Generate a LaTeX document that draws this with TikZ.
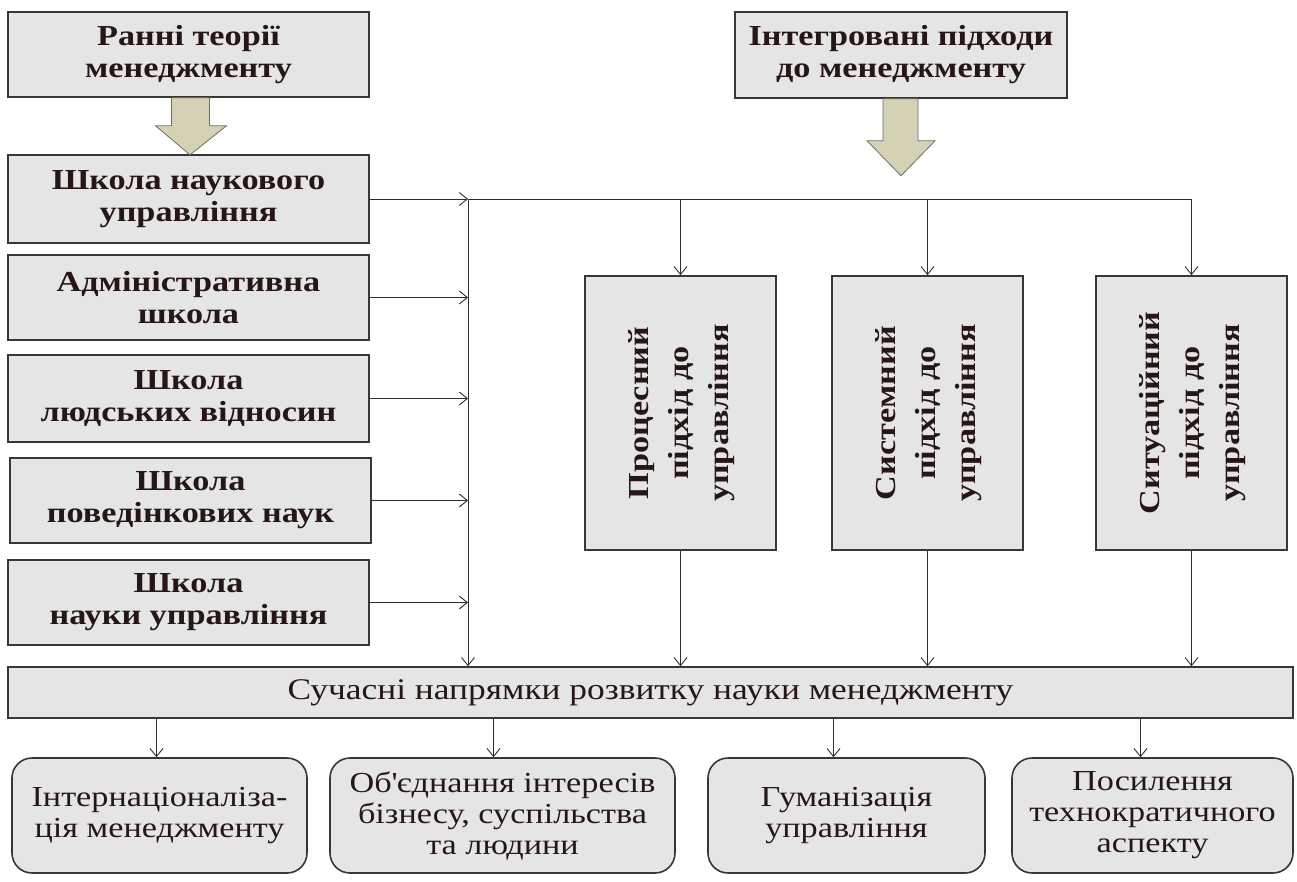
\documentclass[tikz,border=0pt]{standalone}
\usepackage{fontspec}
\setmainfont{Liberation Serif}[FakeStretch=1.18]
\usetikzlibrary{arrows.meta,calc}
\definecolor{boxfill}{RGB}{229,229,229}
\definecolor{boxline}{RGB}{55,55,55}
\definecolor{txt}{RGB}{38,22,22}
\definecolor{bigfill}{RGB}{212,209,181}
\definecolor{bigline}{RGB}{110,110,100}
\definecolor{conncol}{RGB}{45,45,45}
\begin{document}
\begin{tikzpicture}[x=1pt,y=-1pt,
  box/.style={draw=boxline, fill=boxfill, line width=1.6pt, inner sep=0pt, align=center, text=txt,
    font=\fontsize{29}{32}\selectfont\bfseries},
  rbox/.style={box, rounded corners=20pt, font=\fontsize{29}{31}\selectfont},
  barbox/.style={box, font=\fontsize{30}{30}\selectfont},
  conn/.style={draw=conncol, line width=0.9pt},
  arr/.style={conn, -{Straight Barb[length=8pt,width=13pt,line width=0.9pt]}},
  bigarrow/.style={draw=bigline, fill=bigfill, line width=0.8pt}
]
\useasboundingbox (0,0) rectangle (1297,881);
\fill[white] (0,0) rectangle (1297,881);

% left column
\node[box, minimum width=361pt, minimum height=85pt] (R) at (188.5,54.5) {Ранні теорії\\менеджменту};
\node[box, minimum width=361pt, minimum height=88pt] (S1) at (188.5,199) {Школа наукового\\управління};
\node[box, minimum width=361pt, minimum height=85pt] (S2) at (188.5,297.5) {Адміністративна\\школа};
\node[box, minimum width=361pt, minimum height=87pt] (S3) at (188.5,398.5) {Школа\\людських відносин};
\node[box, minimum width=361pt, minimum height=85pt] (S4) at (190.5,500.5) {Школа\\поведінкових наук};
\node[box, minimum width=361pt, minimum height=85pt] (S5) at (188.5,602.5) {Школа\\науки управління};

% top right
\node[box, minimum width=332pt, minimum height=86pt] (I) at (901,55) {Інтегровані підходи\\до менеджменту};

% vertical boxes
\def\vlines#1{\rotatebox{90}{\fontsize{29}{40}\selectfont\bfseries\begin{tabular}{@{}c@{}}#1\end{tabular}}}
\node[box, minimum width=191pt, minimum height=274pt] (P1) at (680.5,413) {\vlines{Процесний\\підхід до\\управління}};
\node[box, minimum width=191pt, minimum height=274pt] (P2) at (927.5,413) {\vlines{Системний\\підхід до\\управління}};
\node[box, minimum width=191pt, minimum height=274pt] (P3) at (1191.5,413) {\vlines{Ситуаційний\\підхід до\\управління}};

% bar
\node[barbox, minimum width=1285pt, minimum height=51pt] (bar) at (650.5,692.5) {Сучасні напрямки розвитку науки менеджменту};

% bottom boxes
\node[rbox, minimum width=295pt, minimum height=115pt] (B1) at (159.5,815.5) {Інтернаціоналіза-\\ція менеджменту};
\node[rbox, minimum width=345pt, minimum height=115pt] (B2) at (502.5,815.5) {Об\textquotesingle єднання інтересів\\бізнесу, суспільства\\та людини};
\node[rbox, minimum width=277pt, minimum height=115pt] (B3) at (846.5,815.5) {Гуманізація\\управління};
\node[rbox, minimum width=281pt, minimum height=115pt] (B4) at (1152.5,815.5) {Посилення\\технократичного\\аспекту};

% big arrows
\draw[bigarrow] ($(R.south)+(-17,0)$) -- ($(R.south)+(21,0)$) -- ($(R.south)+(21,28)$) -- ($(R.south)+(38,28)$)
  -- ($(R.south)+(1.5,57)$) -- ($(R.south)+(-33,28)$) -- ($(R.south)+(-17,28)$) -- cycle;
\draw[bigarrow] ($(I.south)+(-18,0)$) -- ($(I.south)+(17,0)$) -- ($(I.south)+(17,42)$) -- ($(I.south)+(34,42)$)
  -- ($(I.south)+(0,77)$) -- ($(I.south)+(-34,42)$) -- ($(I.south)+(-18,42)$) -- cycle;

% connectors
\coordinate (J) at (468,199);
\draw[arr] (S1.east) -- (S1.east -| J);
\draw[arr] (S2.east) -- (S2.east -| J);
\draw[arr] (S3.east) -- (S3.east -| J);
\draw[arr] (S4.east) -- (S4.east -| J);
\draw[arr] (S5.east) -- (S5.east -| J);
\draw[arr] (J) -- (J |- bar.north);
\draw[conn] (J) -- (J -| P3.north);
\draw[arr] (J -| P1.north) -- (P1.north);
\draw[arr] (J -| P2.north) -- (P2.north);
\draw[arr] (J -| P3.north) -- (P3.north);
\draw[arr] (P1.south) -- (P1.south |- bar.north);
\draw[arr] (P2.south) -- (P2.south |- bar.north);
\draw[arr] (P3.south) -- (P3.south |- bar.north);
\draw[arr] ($(bar.south -| B1.north)+(-3,0)$) -- ($(B1.north)+(-3,0)$);
\draw[arr] ($(bar.south -| B2.north)+(-9,0)$) -- ($(B2.north)+(-9,0)$);
\draw[arr] ($(bar.south -| B3.north)+(-13,0)$) -- ($(B3.north)+(-13,0)$);
\draw[arr] ($(bar.south -| B4.north)+(-12,0)$) -- ($(B4.north)+(-12,0)$);
\end{tikzpicture}
\end{document}
